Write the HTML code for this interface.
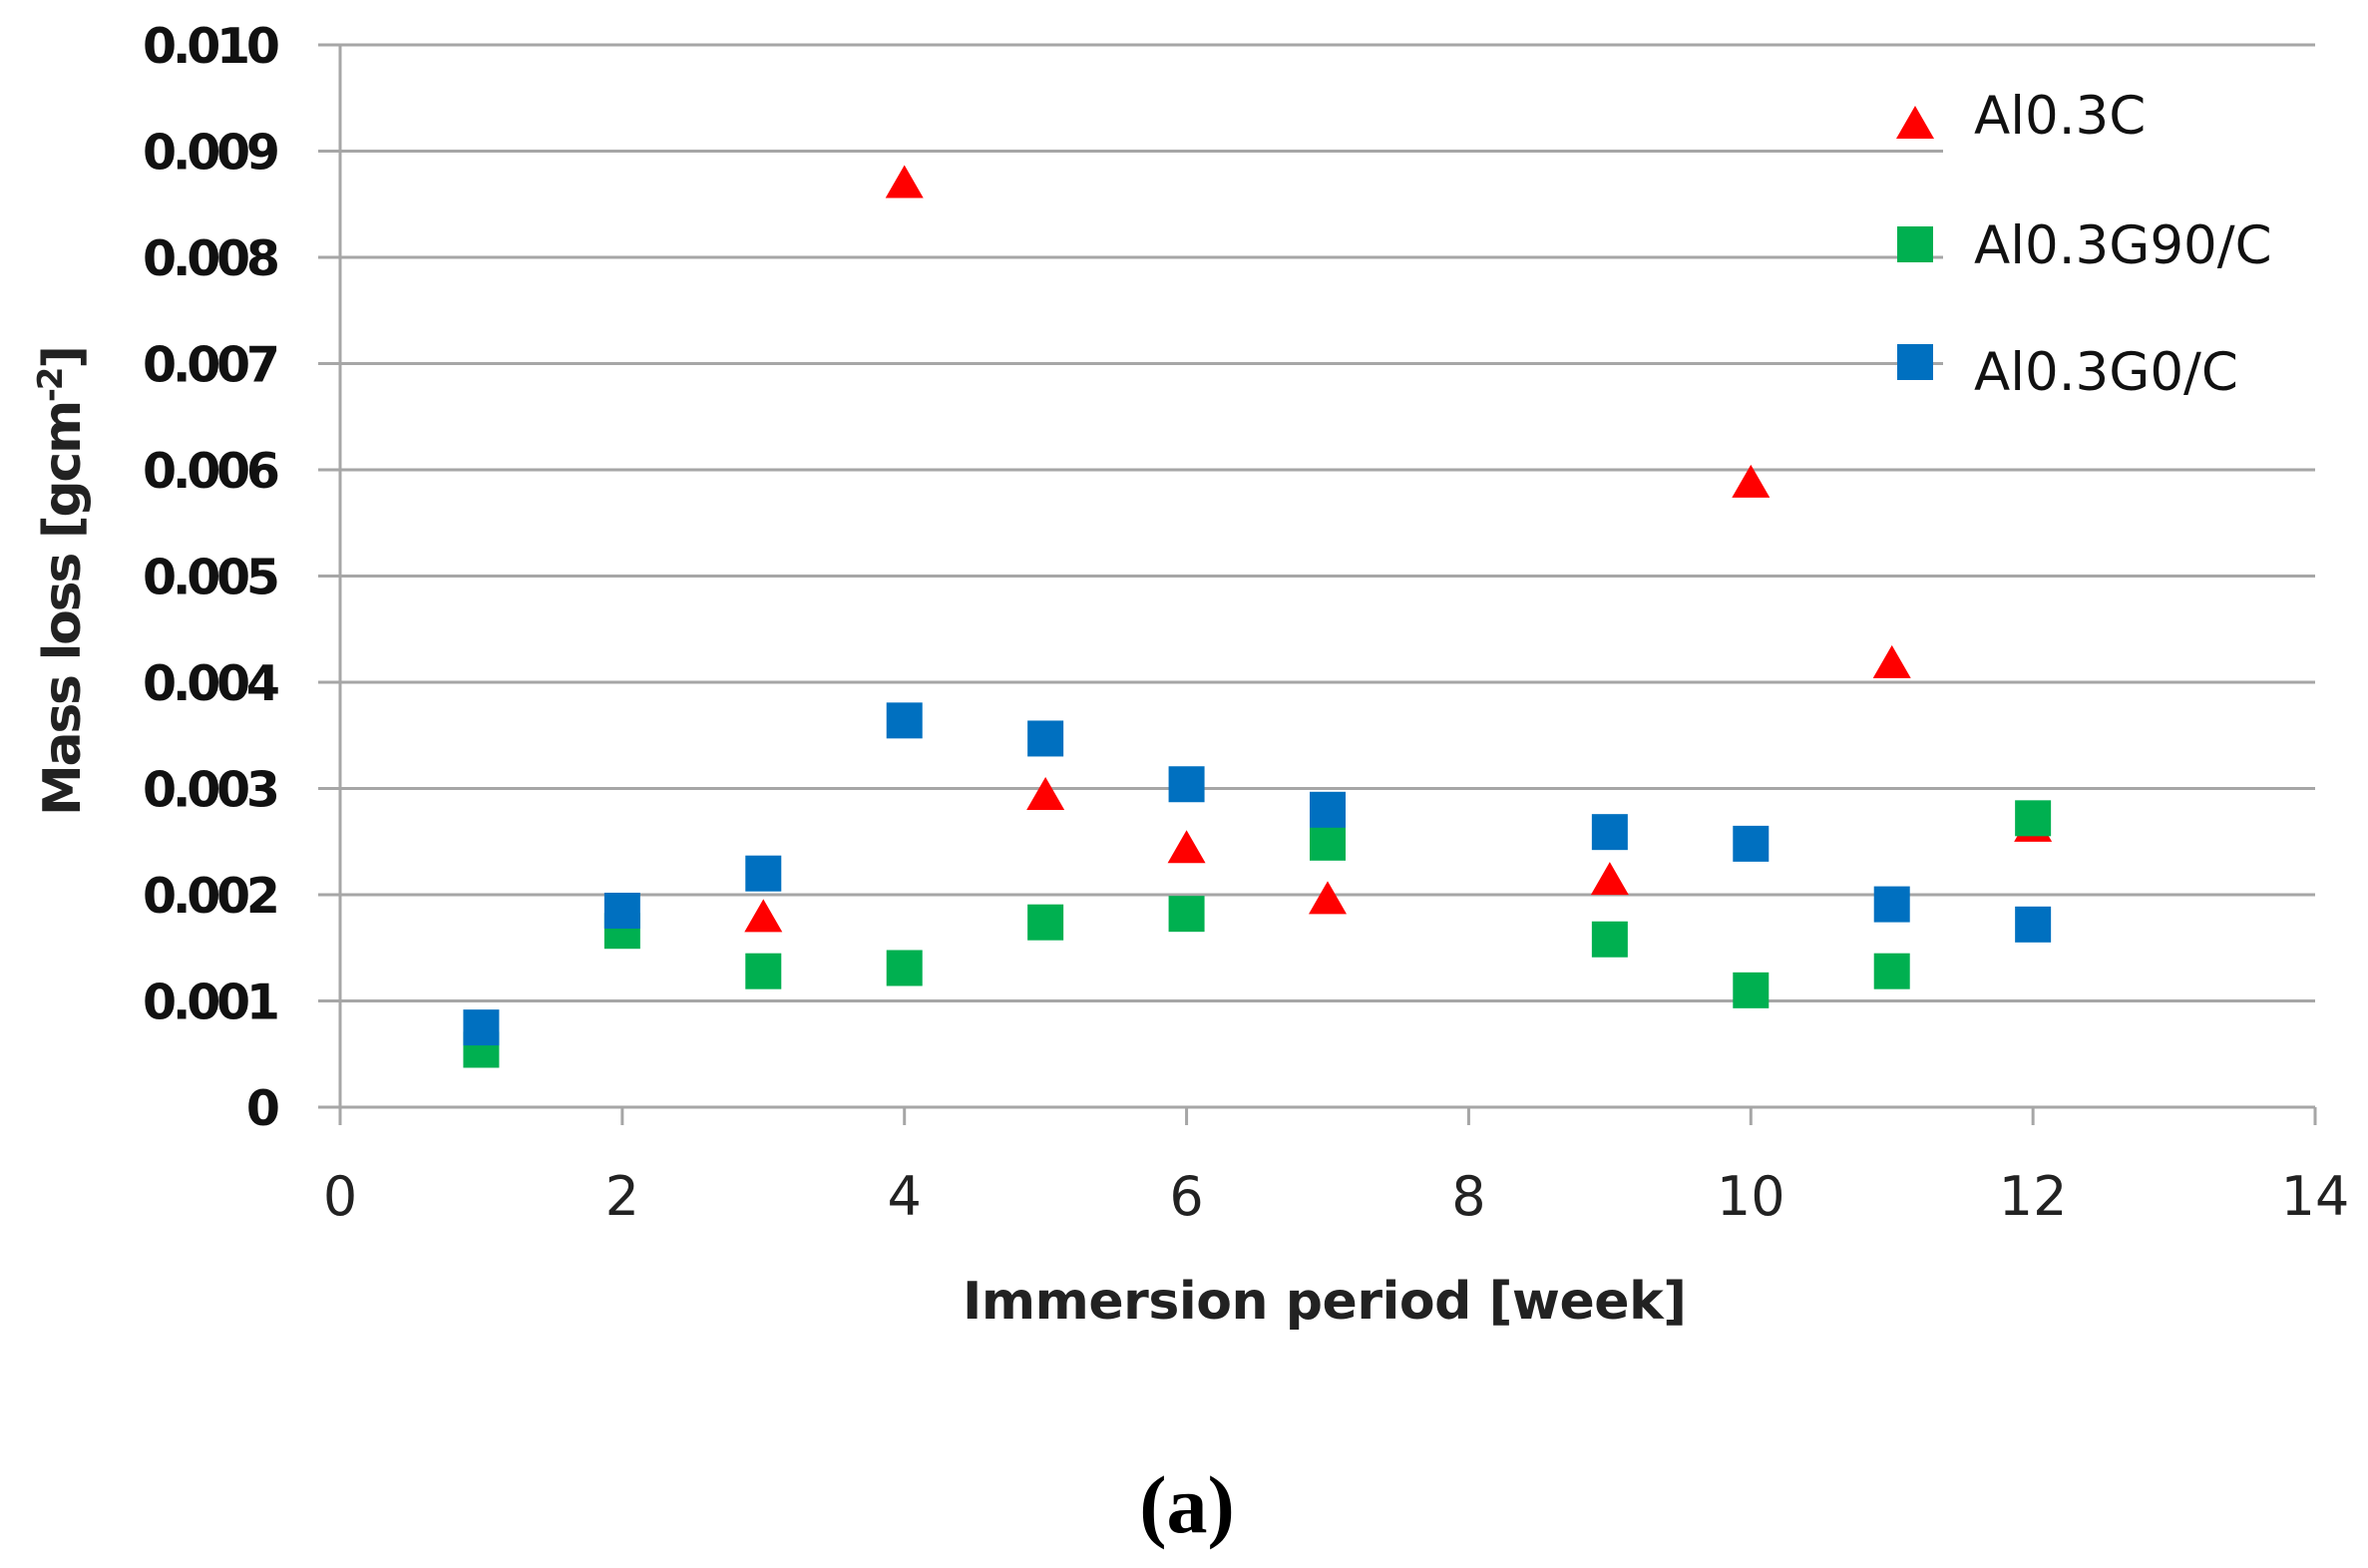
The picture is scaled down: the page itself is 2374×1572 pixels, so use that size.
<!DOCTYPE html>
<html><head><meta charset="utf-8"><style>body{margin:0;background:#fff}svg{display:block}</style></head>
<body>
<svg id="chart" width="2374" height="1572" viewBox="0 0 2374 1572" xmlns="http://www.w3.org/2000/svg">
<g id="grid"></g>
<g id="axes"></g>
<g id="marks"></g>
<text x="1328" y="1322" font-family="DejaVu Sans, Liberation Sans, sans-serif" font-weight="bold" font-size="52" text-anchor="middle" textLength="726" fill="#222">Immersion period [week]</text>
<text transform="translate(80,582) rotate(-90)" font-family="DejaVu Sans, Liberation Sans, sans-serif" font-weight="bold" font-size="52" text-anchor="middle" textLength="472" fill="#222">Mass loss [gcm<tspan font-size="34" dy="-18">-2</tspan><tspan dy="18">]</tspan></text>
<text x="1190" y="1536" font-family="Liberation Serif, serif" font-weight="bold" font-size="82" text-anchor="middle">(a)</text>
<g>
<polygon points="1920,106 1939,139 1901,139" fill="#ff0000"/>
<text x="1979" y="134" font-family="DejaVu Sans, Liberation Sans, sans-serif" font-size="53" fill="#111">Al0.3C</text>
<rect x="1902" y="227" width="36" height="36" fill="#00b050"/>
<text x="1979" y="264" font-family="DejaVu Sans, Liberation Sans, sans-serif" font-size="53" fill="#111">Al0.3G90/C</text>
<rect x="1902" y="345" width="36" height="36" fill="#0070c0"/>
<text x="1979" y="391" font-family="DejaVu Sans, Liberation Sans, sans-serif" font-size="53" fill="#111">Al0.3G0/C</text>
</g>
</svg>
<script>
const weeksRed = [3,4,5,6,7,9,10,11,12];
const valuesRed = [1.78,8.69,2.93,2.43,1.95,2.13,5.87,4.17,2.63];
const weeksGreen = [1,2,3,4,5,6,7,9,10,11,12];
const valuesGreen = [0.54,1.66,1.28,1.31,1.74,1.82,2.49,1.58,1.10,1.28,2.72];
const weeksBlue = [1,2,3,4,5,6,7,9,10,11,12];
const valuesBlue = [0.75,1.85,2.20,3.64,3.47,3.04,2.80,2.59,2.48,1.91,1.72];
const yTickLabels = ["0","0.001","0.002","0.003","0.004","0.005","0.006","0.007","0.008","0.009","0.010"];
const xTickLabels = ["0","2","4","6","8","10","12","14"];

const NS="http://www.w3.org/2000/svg";
const X0=341,X1=2321,Y0=1110,Y1=45;
const xs=v=>X0+(X1-X0)*v/14;
const ys=v=>Y0-(Y0-Y1)*v/10; // v in units of 0.001
function mk(tag,attrs,parent){const e=document.createElementNS(NS,tag);for(const k in attrs)e.setAttribute(k,attrs[k]);parent.appendChild(e);return e;}
const grid=document.getElementById('grid'),axes=document.getElementById('axes'),marks=document.getElementById('marks');

yTickLabels.forEach((lab,i)=>{
  const y=ys(i);
  if(i>0){
    const end=(i>=7&&i<=9)?1948:X1;
    const l=mk('line',{x1:X0-22,x2:end,y1:y,y2:y,stroke:'#a6a6a6','stroke-width':3},grid);
    
    
  }
  const t=mk('text',{x:281,y:y+18,'text-anchor':'end','font-family':'DejaVu Sans, Liberation Sans, sans-serif','font-weight':'bold','font-size':49,fill:'#111'},axes);
  if(lab.length>1)t.setAttribute('textLength',138);
  t.textContent=lab;
  
  
});
const xa=mk('line',{x1:X0-22,x2:X1,y1:Y0,y2:Y0,stroke:'#a6a6a6','stroke-width':3},axes);


const ya=mk('line',{x1:X0,x2:X0,y1:Y1,y2:Y0+18,stroke:'#a6a6a6','stroke-width':3},axes);


xTickLabels.forEach((lab,i)=>{
  const x=xs(+lab);
  const tk=mk('line',{x1:x,x2:x,y1:Y0,y2:Y0+18,stroke:'#a6a6a6','stroke-width':3},axes);
  
  
  const t=mk('text',{x:x,y:1218,'text-anchor':'middle','font-family':'DejaVu Sans, Liberation Sans, sans-serif','font-size':54,fill:'#222'},axes);
  t.textContent=lab;
  
  
});
weeksRed.forEach((w,i)=>{
  const x=xs(w),y=ys(valuesRed[i]);
  const p=mk('polygon',{points:`${x},${y-19} ${x+19},${y+14} ${x-19},${y+14}`,fill:'#ff0000'},marks);
  
  
});
function squares(ws,vs,color,name){
  ws.forEach((w,i)=>{
    const x=xs(w),y=ys(vs[i]);
    const r=mk('rect',{x:x-18,y:y-18,width:36,height:36,fill:color},marks);
    
    
  });
}
squares(weeksGreen,valuesGreen,'#00b050','point-al03g90c');
squares(weeksBlue,valuesBlue,'#0070c0','point-al03g0c');
</script>
</body></html>
